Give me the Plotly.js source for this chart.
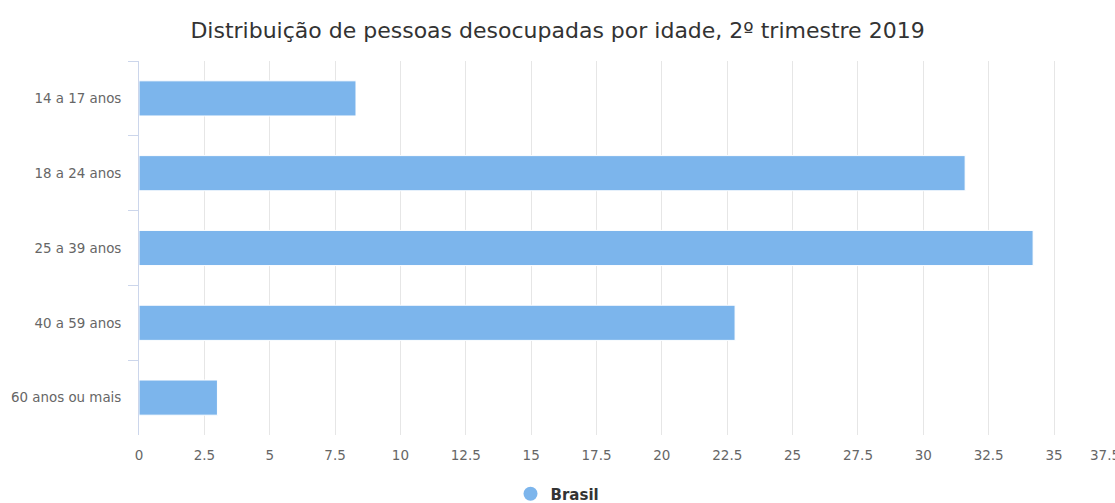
<!DOCTYPE html>
<html>
<head>
<meta charset="utf-8">
<script src="https://cdn.plot.ly/plotly-3.0.1.min.js"></script>
<style>html,body{margin:0;padding:0;background:#fff;overflow:hidden}#chart{width:1115px;height:503px}</style>
</head>
<body>
<div id="chart"></div>
<script>
const categories = ["14 a 17 anos", "18 a 24 anos", "25 a 39 anos", "40 a 59 anos", "60 anos ou mais"];
const brasil = [8.3, 31.6, 34.2, 22.8, 3.0];
const seriesName = "Brasil";
const xTickVals = [0, 2.5, 5, 7.5, 10, 12.5, 15, 17.5, 20, 22.5, 25, 27.5, 30, 32.5, 35];
const xTickText = ["0", "2.5", "5", "7.5", "10", "12.5", "15", "17.5", "20", "22.5", "25", "27.5", "30", "32.5", "35"];
const lastTickLabel = "37.5";

const font = "DejaVu Sans, Verdana, sans-serif";
const color = "#7cb5ec";

const traces = [
  {
    type: "bar", orientation: "h",
    x: brasil, y: categories,
    marker: {color: color, line: {color: "#ffffff", width: 1}},
    showlegend: false, hoverinfo: "x+y"
  },
  {
    type: "scatter", mode: "markers",
    x: [null], y: [null], name: seriesName,
    marker: {color: color, size: 14, symbol: "circle"},
    showlegend: true
  }
];

const layout = {
  width: 1115, height: 503,
  margin: {l: 139, r: 10, t: 61, b: 68},
  paper_bgcolor: "#fff", plot_bgcolor: "#fff",
  font: {family: font, color: "#666", size: 13},
  title: {text: "Distribuição de pessoas desocupadas por idade, 2º trimestre 2019",
          font: {family: font, size: 22, color: "#333"},
          x: 0.5, xanchor: "center", y: 0.94, yanchor: "middle"},
  bargap: 0.53,
  xaxis: {
    range: [0, 36.95], tickvals: xTickVals, ticktext: xTickText,
    showgrid: true, gridcolor: "#e6e6e6", gridwidth: 1,
    zeroline: false, showline: false, ticks: "",
    ticklabelstandoff: 10,
    tickfont: {family: font, size: 13.5, color: "#666"},
    fixedrange: true
  },
  yaxis: {
    type: "category", range: [4.5, -0.5],
    showline: true, linecolor: "#ccd6eb", linewidth: 1,
    ticks: "outside", tickson: "boundaries", ticklen: 10, tickcolor: "#ccd6eb",
    ticklabelstandoff: 14,
    showgrid: false, zeroline: false,
    tickfont: {family: font, size: 13.4, color: "#666"},
    fixedrange: true
  },
  showlegend: true,
  legend: {orientation: "h", x: 0.5, xanchor: "center", xref: "container", y: 0.018, yref: "container", yanchor: "middle",
           font: {family: font, size: 15, color: "#333", weight: "bold"}, itemwidth: 30},
  annotations: [{
    text: lastTickLabel, xref: "paper", yref: "paper", x: 1, y: 0, xanchor: "center", yanchor: "top",
    yshift: -10, showarrow: false, font: {family: font, size: 13.5, color: "#666"}
  }]
};

Plotly.newPlot("chart", traces, layout, {displayModeBar: false, staticPlot: false});
</script>
</body>
</html>
